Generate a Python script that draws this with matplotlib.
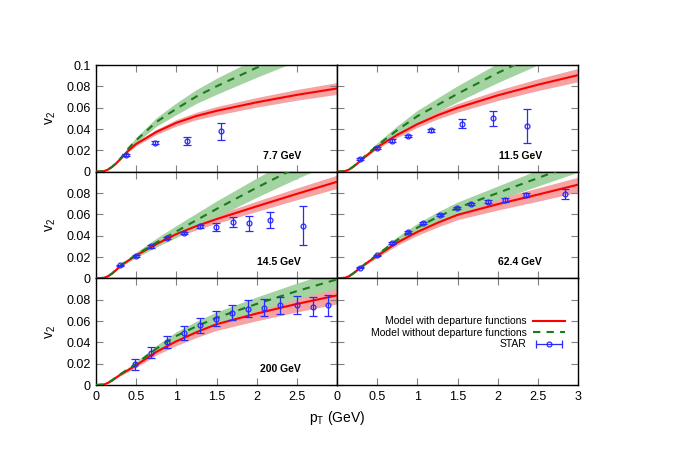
import matplotlib
matplotlib.use('Agg')
import matplotlib.pyplot as plt
from matplotlib.lines import Line2D
from matplotlib.legend_handler import HandlerLine2D, HandlerTuple
import matplotlib.ticker as mticker

plt.rcParams.update({
    'font.family': ['Liberation Sans', 'DejaVu Sans'],
    'font.size': 9,
    'mathtext.fontset': 'custom',
    'mathtext.rm': 'Liberation Sans',
    'mathtext.it': 'Liberation Sans:italic',
})

# ---------------------------------------------------------------
# Data
# ---------------------------------------------------------------
ENERGIES = ['7.7 GeV', '11.5 GeV', '14.5 GeV', '62.4 GeV', '200 GeV']

PT_GRID = [0, 0.1, 0.15, 0.2, 0.25, 0.3, 0.4, 0.5, 0.75, 1.0, 1.25, 1.5, 2.0, 2.5, 3.0]

# model with departure functions (red)
RED_MID = [
    [0, .0005, .002, .0045, .0078, .0115, .0195, .026, .0372, .0458, .0522, .057, .065, .072, .078],
    [0, .0005, .002, .0045, .0075, .011, .017, .023, .0345, .0445, .0528, .0598, .0715, .0815, .0905],
    [0, .0005, .002, .0045, .0078, .0115, .0165, .0215, .032, .0415, .049, .0555, .0675, .0792, .0905],
    [0, .0005, .002, .0045, .0075, .0105, .016, .021, .0335, .0435, .052, .0595, .0695, .0785, .0878],
    [0, .0005, .002, .0042, .007, .0095, .014, .0185, .031, .041, .0495, .057, .067, .076, .084],
]
RED_HALF = [
    [0, 0, .0002, .0004, .0006, .0008, .0012, .0016, .0024, .003, .0035, .004, .0045, .005, .0055],
    [0, 0, .0002, .0004, .0006, .0008, .0012, .0016, .0024, .003, .0035, .004, .0048, .0055, .0062],
    [0, 0, .0002, .0004, .0006, .0008, .0012, .0016, .0024, .003, .0035, .004, .0048, .0055, .0062],
    [0, 0, .0002, .0004, .0006, .0008, .0012, .0016, .0025, .0032, .004, .0045, .0055, .0062, .007],
    [0, 0, .0002, .0005, .0008, .001, .0015, .002, .003, .004, .005, .0058, .0068, .0075, .008],
]

# model without departure functions (green)
GREEN_MID = [
    [0, .0005, .002, .0046, .008, .012, .0215, .0295, .0465, .059, .0705, .080, .0975, .114, .13],
    [0, .0005, .002, .0046, .0078, .0115, .018, .0245, .039, .052, .0625, .073, .0925, .1105, .128],
    [0, .0005, .002, .0046, .008, .012, .017, .022, .0335, .044, .0545, .065, .085, .104, .122],
    [0, .0005, .002, .0045, .0075, .0105, .0165, .022, .036, .0475, .0575, .066, .080, .094, .108],
    [0, .0005, .002, .0045, .0075, .010, .015, .020, .034, .046, .055, .063, .076, .088, .099],
]
GREEN_HALF = [
    [0, 0, .0002, .0005, .0008, .0011, .0018, .0025, .004, .0055, .0065, .0075, .009, .0105, .012],
    [0, 0, .0002, .0005, .0008, .0011, .0018, .0025, .004, .0055, .0065, .0075, .009, .0105, .012],
    [0, 0, .0002, .0005, .0008, .0011, .0018, .0025, .004, .0055, .0065, .0075, .009, .0105, .012],
    [0, 0, .0002, .0004, .0006, .0009, .0014, .002, .003, .004, .0047, .0055, .0065, .0075, .0085],
    [0, 0, .0002, .0004, .0006, .0009, .0014, .002, .003, .004, .0047, .0055, .0065, .0075, .0085],
]

# STAR measurements
STAR_PT = [
    [0.37, 0.74, 1.13, 1.55],
    [0.29, 0.50, 0.68, 0.89, 1.17, 1.55, 1.94, 2.36],
    [0.30, 0.50, 0.69, 0.89, 1.09, 1.29, 1.49, 1.70, 1.90, 2.17, 2.58],
    [0.29, 0.50, 0.68, 0.89, 1.07, 1.28, 1.49, 1.67, 1.88, 2.09, 2.35, 2.84],
    [0.49, 0.69, 0.89, 1.10, 1.29, 1.49, 1.69, 1.89, 2.09, 2.29, 2.50, 2.70, 2.89],
]
STAR_V2 = [
    [.0157, .027, .0286, .0377],
    [.012, .0224, .0292, .0333, .0387, .045, .050, .0428],
    [.0121, .0209, .0299, .038, .0424, .0486, .048, .0527, .0517, .0548, .0495],
    [.010, .0215, .0333, .0433, .052, .0595, .0657, .0695, .072, .0735, .078, .079],
    [.0193, .0302, .040, .049, .056, .0623, .0676, .0717, .0726, .0748, .0748, .0732, .0748],
]
STAR_ERR = [
    [.001, .0015, .004, .0082],
    [.0008, .0008, .001, .001, .0012, .004, .0068, .016],
    [.0008, .0008, .001, .001, .0012, .0015, .004, .0044, .007, .0078, .0187],
    [.0007, .0007, .0008, .0008, .0008, .0008, .0008, .001, .0012, .0015, .002, .0044],
    [.0055, .005, .0055, .0067, .0068, .0072, .007, .0078, .0078, .008, .0083, .0089, .01],
]

X_TICKS = [0, 0.5, 1, 1.5, 2, 2.5, 3]
Y_TICKS = [0, 0.02, 0.04, 0.06, 0.08, 0.1]

RED = '#ff0000'
PINK = '#f5a3a3'
DGREEN = '#1b7a1b'
LGREEN = '#a3d3a0'
BLUE = '#2a2aff'

# ---------------------------------------------------------------
# Figure
# ---------------------------------------------------------------
fig = plt.figure(figsize=(6.75, 4.5), dpi=100)
gs = fig.add_gridspec(3, 2, left=96 / 675, right=578 / 675,
                      bottom=65 / 450, top=385 / 450, hspace=0, wspace=0)

slots = [(0, 0), (0, 1), (1, 0), (1, 1), (2, 0), (2, 1)]
axes = [fig.add_subplot(gs[r, c]) for r, c in slots]


def style_axis(ax, row, col):
    ax.set_xlim(0, 3)
    ax.set_ylim(0, 0.1)
    ax.set_xticks(X_TICKS)
    ax.set_yticks(Y_TICKS)
    ax.tick_params(direction='in', top=True, right=True, length=5,
                   width=0.8, color='#808080', labelsize=9, pad=4)
    fmt = mticker.FormatStrFormatter('%g')
    ax.xaxis.set_major_formatter(fmt)
    ax.yaxis.set_major_formatter(fmt)
    for sp in ax.spines.values():
        sp.set_linewidth(1.0)
    if col == 1:
        ax.tick_params(labelleft=False)
    else:
        ax.set_ylabel(r'$\mathrm{v}_2$', fontsize=10, labelpad=6)
        if row > 0:
            ax.set_yticklabels(['0', '0.02', '0.04', '0.06', '0.08', ''])
    if row < 2:
        ax.tick_params(labelbottom=False)
    elif col == 0:
        ax.set_xticklabels(['0', '0.5', '1', '1.5', '2', '2.5', ''])


for i, ax in enumerate(axes):
    r, c = slots[i]
    style_axis(ax, r, c)
    if i >= len(ENERGIES):
        continue
    rlo = [m - w for m, w in zip(RED_MID[i], RED_HALF[i])]
    rhi = [m + w for m, w in zip(RED_MID[i], RED_HALF[i])]
    glo = [m - w for m, w in zip(GREEN_MID[i], GREEN_HALF[i])]
    ghi = [m + w for m, w in zip(GREEN_MID[i], GREEN_HALF[i])]
    ax.fill_between(PT_GRID, rlo, rhi, color=PINK, lw=0, zorder=1)
    ax.fill_between(PT_GRID, glo, ghi, color=LGREEN, lw=0, zorder=2)
    ax.plot(PT_GRID, RED_MID[i], color=RED, lw=1.5, zorder=3)
    ax.plot(PT_GRID, GREEN_MID[i], color=DGREEN, lw=1.5,
            dashes=(3.5, 3), zorder=4)
    ax.errorbar(STAR_PT[i], STAR_V2[i], yerr=STAR_ERR[i], fmt='o',
                ms=3.5, mfc='none', mec=BLUE, mew=0.9, ecolor=BLUE,
                elinewidth=0.9, capsize=3, capthick=0.9, zorder=5)
    ax.text(0.85, 0.15, ENERGIES[i], transform=ax.transAxes,
            ha='right', va='center', fontsize=7.5, fontweight='bold')

# legend in the empty panel
lax = axes[5]
h_red = Line2D([], [], color=RED, lw=1.5)
h_green = Line2D([], [], color=DGREEN, lw=1.5, dashes=(3.5, 3))
h_caps = Line2D([], [], color=BLUE, lw=0.9, marker='|', ms=6, mew=0.9)
h_dot = Line2D([], [], color=BLUE, lw=0, marker='o', ms=3.5, mfc='none', mew=0.9)
leg = lax.legend([h_red, h_green, (h_caps, h_dot)],
                 ['Model with departure functions',
                  'Model without departure functions', 'STAR'],
                 handler_map={h_caps: HandlerLine2D(numpoints=2),
                              tuple: HandlerTuple(ndivide=1)},
                 loc='center right', bbox_to_anchor=(0.946, 0.49),
                 frameon=False, markerfirst=False, fontsize=7.5,
                 handlelength=3.1, handletextpad=0.6, labelspacing=0.15,
                 borderpad=0, borderaxespad=0)
for col in leg._legend_handle_box.get_children():
    col.align = 'right'

fig.text(337 / 675, 1 - 418 / 450, r'$\mathrm{p}_\mathrm{T}$ (GeV)',
         ha='center', va='center', fontsize=10)

fig.savefig('out.png', dpi=100)
